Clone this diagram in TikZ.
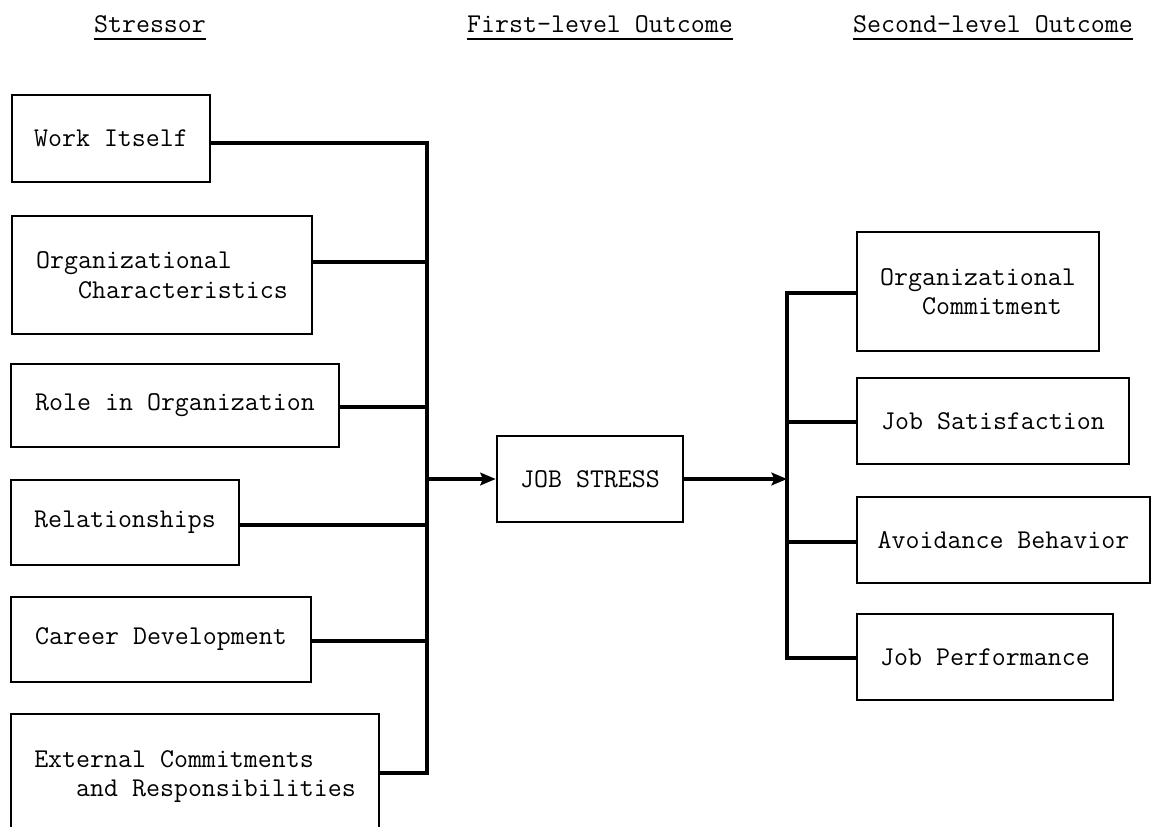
\documentclass[tikz,border=0pt]{standalone}
\usepackage{fontspec}
\usetikzlibrary{arrows.meta,calc}

\begin{document}
\begin{tikzpicture}[x=0.025cm,y=-0.025cm,>={Stealth[length=11pt,width=9pt,inset=2pt]},
 box/.style={draw,line width=1.8pt,inner sep=0pt,align=left,
   font=\ttfamily\fontsize{19.3}{21}\selectfont},
 head/.style={anchor=base,inner sep=0pt,font=\ttfamily\fontsize{19.3}{21}\selectfont},
 link/.style={line width=2.6pt,line cap=rect}]
\useasboundingbox (0,0) rectangle (1152,827);
% column headings
\node[head] (h1) at (150,33) {Stressor};
\node[head] (h2) at (600,33) {First-level Outcome};
\node[head] (h3) at (993,33) {Second-level Outcome};
\foreach \h in {h1,h2,h3}
  \draw[line width=1.4pt] ($(\h.base west)+(0,6)$) -- ($(\h.base east)+(0,6)$);
% stressors
\node[box,minimum width=4.95cm,minimum height=2.175cm] (work) at (111,138.5) {Work Itself};
\node[box,minimum width=7.5cm,minimum height=2.95cm] (org) at (162,275) {Organizational\\\phantom{000}Characteristics};
\node[box,minimum width=8.2cm,minimum height=2.075cm] (role) at (175,405.5) {Role in Organization};
\node[box,minimum width=5.7cm,minimum height=2.125cm] (rel) at (125,522.5) {Relationships};
\node[box,minimum width=7.5cm,minimum height=2.125cm] (career) at (161,639.5) {Career Development};
\node[box,minimum width=9.2cm,minimum height=3.125cm] (ext) at (195,776.5) {External Commitments\\\phantom{000}and Responsibilities};
% first-level outcome
\node[box,minimum width=4.65cm,minimum height=2.15cm] (stress) at (590,479) {JOB STRESS};
% second-level outcomes
\node[box,minimum width=6.05cm,minimum height=2.975cm] (commit) at (978,291.5) {Organizational\\\phantom{000}Commitment};
\node[box,minimum width=6.8cm,minimum height=2.15cm] (sat) at (993,421) {Job Satisfaction};
\node[box,minimum width=7.325cm,minimum height=2.15cm] (avoid) at (1003.5,540) {Avoidance Behavior};
\node[box,minimum width=6.4cm,minimum height=2.15cm] (perf) at (985,657) {Job Performance};
% left bus
\foreach \n/\y in {work/143,org/262,role/407,rel/525,career/641,ext/773} {
  \coordinate (t-\n) at (427,\y);
  \draw[link] (t-\n -| \n.east) -- (t-\n);
}
\draw[link] (t-work) -- (t-ext);
\coordinate (inL) at (427,479);
\draw[link,->] (inL) -- (stress.west);
% right bus
\coordinate (inR) at (787,479);
\draw[link,->] (stress.east) -- (inR);
\foreach \n/\y in {commit/293,sat/422,avoid/542,perf/658} {
  \coordinate (t-\n) at (787,\y);
  \draw[link] (t-\n) -- (t-\n -| \n.west);
}
\draw[link] (t-commit) -- (t-perf);
\end{tikzpicture}
\end{document}
